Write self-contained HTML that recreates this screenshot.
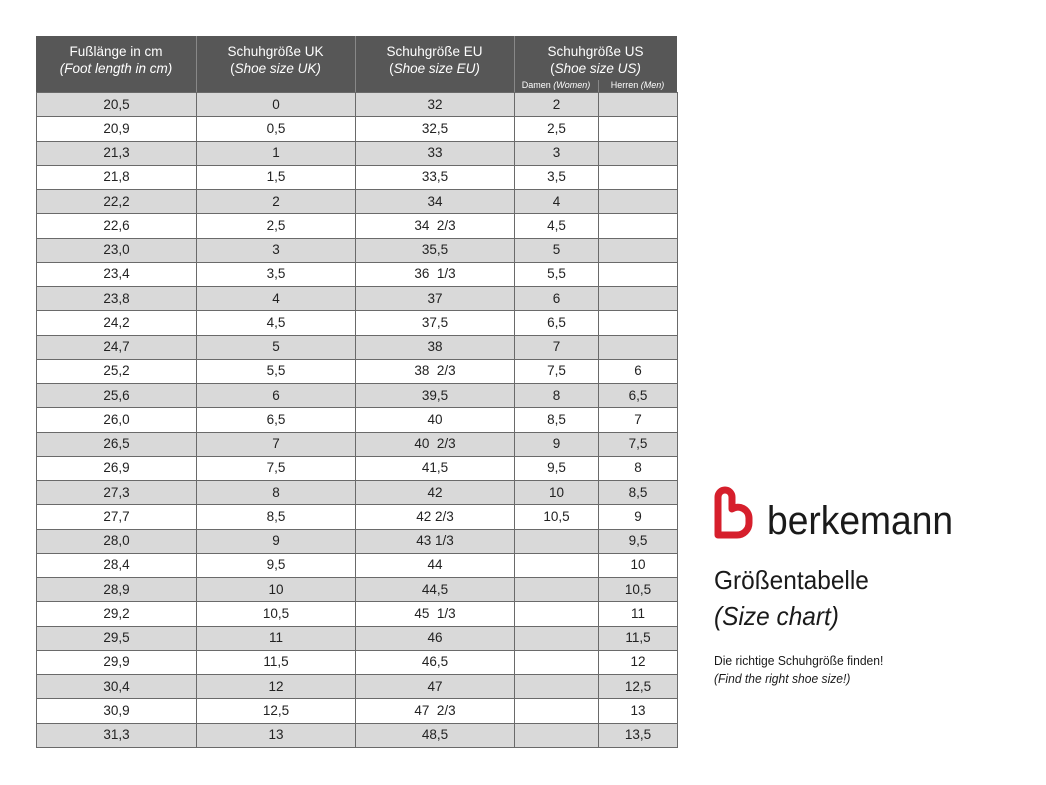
<!DOCTYPE html>
<html><head><meta charset="utf-8"><style>
body{margin:0;width:1046px;height:785px;background:#fff;position:relative;font-family:"Liberation Sans",sans-serif;overflow:hidden}
table{position:absolute;left:36px;top:36px;border-collapse:collapse;table-layout:fixed;width:641px}
td{border:1px solid #6a6a6a;text-align:center;font-size:13.5px;color:#222;height:23.26px;padding:0;line-height:14px}
tr:nth-child(odd) td{background:#d9d9d9}
.txt{position:absolute;color:#1a1a1a}
</style></head><body>
<div style="position:absolute;left:36px;top:36px;width:641px;height:56px;background:#575757"></div>
<div class="txt" style="left:36px;top:43px;width:160px;text-align:center;color:#fff;font-size:13.5px;line-height:17px">Fußlänge in cm<br><i>(Foot length in cm)</i></div>
<div class="txt" style="left:196px;top:43px;width:159px;text-align:center;color:#fff;font-size:13.5px;line-height:17px">Schuhgröße UK<br>(<i>Shoe size UK)</i></div>
<div class="txt" style="left:355px;top:43px;width:159px;text-align:center;color:#fff;font-size:13.5px;line-height:17px">Schuhgröße EU<br>(<i>Shoe size EU)</i></div>
<div class="txt" style="left:514px;top:43px;width:163px;text-align:center;color:#fff;font-size:13.5px;line-height:17px">Schuhgröße US<br>(<i>Shoe size US)</i></div>
<div class="txt" style="left:514px;top:80px;width:84px;text-align:center;color:#fff;font-size:9px">Damen <i>(Women)</i></div>
<div class="txt" style="left:598px;top:80px;width:79px;text-align:center;color:#fff;font-size:9px">Herren <i>(Men)</i></div>
<div style="position:absolute;left:196px;top:36px;width:1px;height:56px;background:#888"></div>
<div style="position:absolute;left:355px;top:36px;width:1px;height:56px;background:#888"></div>
<div style="position:absolute;left:514px;top:36px;width:1px;height:56px;background:#888"></div>
<div style="position:absolute;left:598px;top:80px;width:1px;height:12px;background:#888"></div>
<table style="top:92px">
<colgroup><col style="width:160px"><col style="width:159px"><col style="width:159px"><col style="width:84px"><col style="width:79px"></colgroup>
<tr><td>20,5</td><td>0</td><td>32</td><td>2</td><td></td></tr>
<tr><td>20,9</td><td>0,5</td><td>32,5</td><td>2,5</td><td></td></tr>
<tr><td>21,3</td><td>1</td><td>33</td><td>3</td><td></td></tr>
<tr><td>21,8</td><td>1,5</td><td>33,5</td><td>3,5</td><td></td></tr>
<tr><td>22,2</td><td>2</td><td>34</td><td>4</td><td></td></tr>
<tr><td>22,6</td><td>2,5</td><td>34&nbsp; 2/3</td><td>4,5</td><td></td></tr>
<tr><td>23,0</td><td>3</td><td>35,5</td><td>5</td><td></td></tr>
<tr><td>23,4</td><td>3,5</td><td>36&nbsp; 1/3</td><td>5,5</td><td></td></tr>
<tr><td>23,8</td><td>4</td><td>37</td><td>6</td><td></td></tr>
<tr><td>24,2</td><td>4,5</td><td>37,5</td><td>6,5</td><td></td></tr>
<tr><td>24,7</td><td>5</td><td>38</td><td>7</td><td></td></tr>
<tr><td>25,2</td><td>5,5</td><td>38&nbsp; 2/3</td><td>7,5</td><td>6</td></tr>
<tr><td>25,6</td><td>6</td><td>39,5</td><td>8</td><td>6,5</td></tr>
<tr><td>26,0</td><td>6,5</td><td>40</td><td>8,5</td><td>7</td></tr>
<tr><td>26,5</td><td>7</td><td>40&nbsp; 2/3</td><td>9</td><td>7,5</td></tr>
<tr><td>26,9</td><td>7,5</td><td>41,5</td><td>9,5</td><td>8</td></tr>
<tr><td>27,3</td><td>8</td><td>42</td><td>10</td><td>8,5</td></tr>
<tr><td>27,7</td><td>8,5</td><td>42 2/3</td><td>10,5</td><td>9</td></tr>
<tr><td>28,0</td><td>9</td><td>43 1/3</td><td></td><td>9,5</td></tr>
<tr><td>28,4</td><td>9,5</td><td>44</td><td></td><td>10</td></tr>
<tr><td>28,9</td><td>10</td><td>44,5</td><td></td><td>10,5</td></tr>
<tr><td>29,2</td><td>10,5</td><td>45&nbsp; 1/3</td><td></td><td>11</td></tr>
<tr><td>29,5</td><td>11</td><td>46</td><td></td><td>11,5</td></tr>
<tr><td>29,9</td><td>11,5</td><td>46,5</td><td></td><td>12</td></tr>
<tr><td>30,4</td><td>12</td><td>47</td><td></td><td>12,5</td></tr>
<tr><td>30,9</td><td>12,5</td><td>47&nbsp; 2/3</td><td></td><td>13</td></tr>
<tr><td>31,3</td><td>13</td><td>48,5</td><td></td><td>13,5</td></tr>
</table>
<svg style="position:absolute;left:713px;top:485px" width="44" height="54" viewBox="0 0 44 54">
<path d="M5 50 V12 a7 7 0 0 1 14 0 V24 a11 11 0 0 1 17 9 V38 a12 12 0 0 1 -12 12 H5" fill="none" stroke="#d61f2c" stroke-width="7" stroke-linejoin="round" stroke-linecap="round"/>
</svg>
<div class="txt" style="left:767px;top:498px;font-size:40px;line-height:46px;color:#1a1a1a;transform:scaleX(0.93);transform-origin:left top">berkemann</div>
<div class="txt" style="left:714px;top:564px;font-size:26px;line-height:32px;transform:scaleX(0.94);transform-origin:left top">Größentabelle</div>
<div class="txt" style="left:714px;top:600px;font-size:26px;line-height:32px;font-style:italic;transform:scaleX(0.94);transform-origin:left top">(Size chart)</div>
<div class="txt" style="left:714px;top:652px;font-size:13px;line-height:18px;transform:scaleX(0.93);transform-origin:left top">Die richtige Schuhgröße finden!<br><i>(Find the right shoe size!)</i></div>
</body></html>
